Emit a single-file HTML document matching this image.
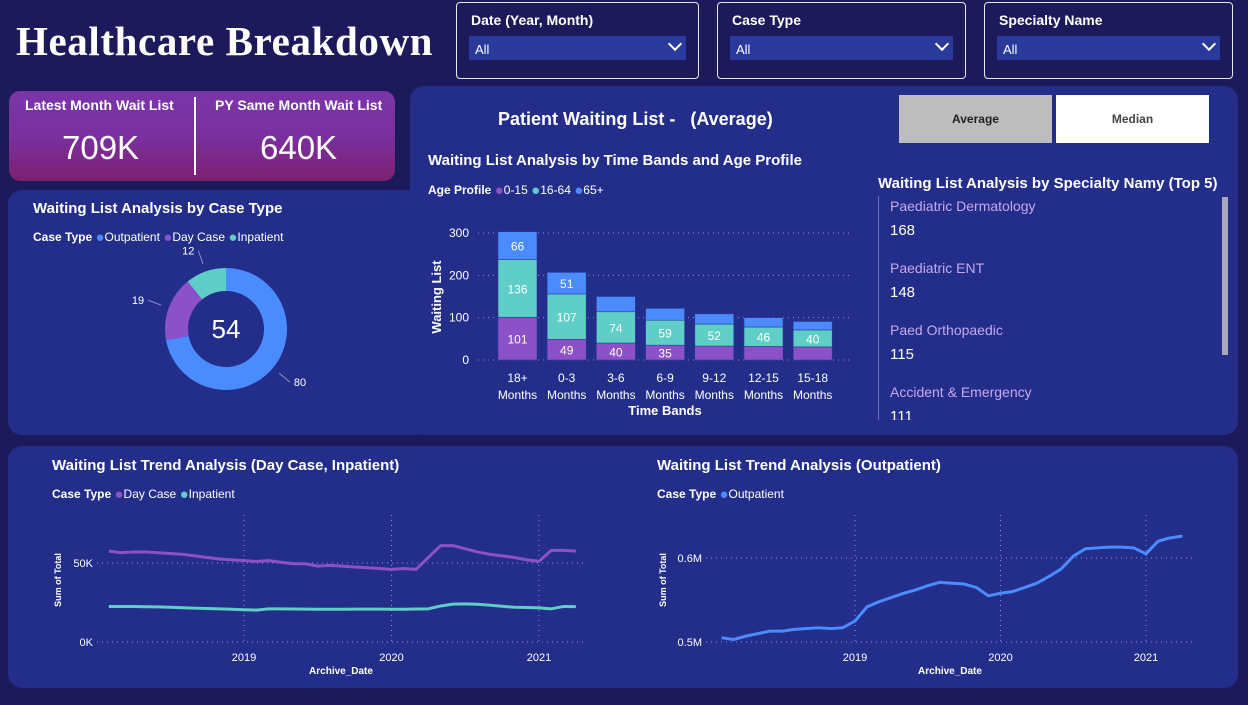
<!DOCTYPE html>
<html><head><meta charset="utf-8">
<style>
*{box-sizing:border-box;margin:0;padding:0}
body{width:1248px;height:705px;background:#1c1a5b;font-family:"Liberation Sans",sans-serif;color:#fff;position:relative;overflow:hidden}
.abs{position:absolute}
.panel{position:absolute;background:#232e8b;border-radius:14px}
.slicer{position:absolute;border:1.5px solid #e8e8f0;border-radius:4px;top:2px;height:77px}
.slicer .lbl{position:absolute;left:14px;top:9px;font-size:14px;font-weight:bold}
.slicer .fld{position:absolute;left:12px;right:12px;top:33px;height:24px;background:#2a3a9c;font-size:13px;padding:6px 0 0 6px}
.slicer .chev{position:absolute;right:6px;top:3px;width:10px;height:10px;border-right:2px solid #fff;border-bottom:2px solid #fff;transform:rotate(45deg)}
.t{position:absolute;white-space:nowrap}
.d{font-size:15px;line-height:10px;vertical-align:-1px}
</style></head><body>
<div class="t" style="left:16px;top:17px;font-family:'Liberation Serif',serif;font-weight:bold;font-size:41px;letter-spacing:0.6px">Healthcare Breakdown</div>

<div class="slicer" style="left:456px;width:243px"><div class="lbl">Date (Year, Month)</div><div class="fld">All<div class="chev"></div></div></div>
<div class="slicer" style="left:717px;width:249px"><div class="lbl">Case Type</div><div class="fld">All<div class="chev"></div></div></div>
<div class="slicer" style="left:984px;width:249px"><div class="lbl">Specialty Name</div><div class="fld">All<div class="chev"></div></div></div>

<div class="abs" style="left:8px;top:90px;width:388px;height:92px;border-radius:12px;background:linear-gradient(#7a35a8 0%,#7a30a0 50%,#7c2070 100%);border:1px solid #15204a">
  <div class="t" style="left:16px;top:6px;font-size:14px;font-weight:bold">Latest Month Wait List</div>
  <div class="t" style="left:53px;top:38px;font-size:33px">709K</div>
  <div class="abs" style="left:185px;top:6px;width:2px;height:78px;background:#fff"></div>
  <div class="t" style="left:206px;top:6px;font-size:14px;font-weight:bold">PY Same Month Wait List</div>
  <div class="t" style="left:251px;top:38px;font-size:33px">640K</div>
</div>

<div class="panel" style="left:410px;top:86px;width:828px;height:349px"></div>
<div class="panel" style="left:8px;top:190px;width:420px;height:245px"></div>
<div class="panel" style="left:8px;top:446px;width:1230px;height:242px"></div>

<div class="t" style="left:498px;top:109px;font-size:18px;font-weight:bold">Patient Waiting List -&nbsp;&nbsp;&nbsp;(Average)</div>
<div class="abs" style="left:899px;top:95px;width:153px;height:48px;background:#bdbdbd;color:#222;font-size:12px;font-weight:bold;text-align:center;line-height:48px">Average</div>
<div class="abs" style="left:1056px;top:95px;width:153px;height:48px;background:#fff;color:#444;font-size:12px;font-weight:bold;text-align:center;line-height:48px">Median</div>

<div class="t" style="left:33px;top:200px;font-size:15px;font-weight:bold">Waiting List Analysis by Case Type</div>
<div class="t" style="left:33px;top:230px;font-size:12px"><b>Case Type</b> <span class="d" style="color:#4a8cff">●</span>Outpatient <span class="d" style="color:#8c50c8">●</span>Day Case <span class="d" style="color:#5ecec6">●</span>Inpatient</div>
<svg class="abs" style="left:0;top:0" width="1248" height="705" id="svg">
</svg>

<div class="t" style="left:878px;top:175px;font-size:15px;font-weight:bold">Waiting List Analysis by Specialty Namy (Top 5)</div>
<div class="abs" style="left:878px;top:196px;width:340px;height:224px;overflow:hidden;border-left:1px solid #6a74b8">
  <div class="t" style="left:11px;top:2px;font-size:14px;color:#c7a8ea">Paediatric Dermatology</div><div class="t" style="left:11px;top:26px;font-size:15px">168</div>
  <div class="t" style="left:11px;top:64px;font-size:14px;color:#c7a8ea">Paediatric ENT</div><div class="t" style="left:11px;top:88px;font-size:15px">148</div>
  <div class="t" style="left:11px;top:126px;font-size:14px;color:#c7a8ea">Paed Orthopaedic</div><div class="t" style="left:11px;top:150px;font-size:15px">115</div>
  <div class="t" style="left:11px;top:188px;font-size:14px;color:#c7a8ea">Accident &amp; Emergency</div><div class="t" style="left:11px;top:212px;font-size:15px">111</div>
</div>
<div class="abs" style="left:1222px;top:197px;width:6px;height:158px;background:#a8a8b8"></div>

<div class="t" style="left:428px;top:152px;font-size:15px;font-weight:bold">Waiting List Analysis by Time Bands and Age Profile</div>
<div class="t" style="left:428px;top:183px;font-size:12px"><b>Age Profile</b> <span class="d" style="color:#8c50c8">●</span>0-15 <span class="d" style="color:#5ecec6">●</span>16-64 <span class="d" style="color:#4a8cff">●</span>65+</div>

<div class="t" style="left:52px;top:457px;font-size:15px;font-weight:bold">Waiting List Trend Analysis (Day Case, Inpatient)</div>
<div class="t" style="left:52px;top:487px;font-size:12px"><b>Case Type</b> <span class="d" style="color:#8c50c8">●</span>Day Case <span class="d" style="color:#5ecec6">●</span>Inpatient</div>
<div class="t" style="left:657px;top:457px;font-size:15px;font-weight:bold">Waiting List Trend Analysis (Outpatient)</div>
<div class="t" style="left:657px;top:487px;font-size:12px"><b>Case Type</b> <span class="d" style="color:#4a8cff">●</span>Outpatient</div>

<script>
const donutCats=['Outpatient','Day Case','Inpatient'];
const donutVals=[80,19,12];
const bands=['18+|Months','0-3|Months','3-6|Months','6-9|Months','9-12|Months','12-15|Months','15-18|Months'];
const age0=[101,49,40,35,33,32,31];
const age16=[136,107,74,59,52,46,40];
const age65=[66,51,36,28,24,22,20];
const barTicks=[0,100,200,300];
// monthly from Feb 2018 to Apr 2021
const dayCase=[57.5,56.5,57,57,56.5,56,55.5,54.5,53.5,52.5,52,51.5,51,51.5,50.5,49.5,49.5,48,48.5,48,47.5,47,46.5,46,46.5,46,53.5,61,61,59,57,55.5,54.5,53.5,52,51,58,58,57.5];
const inpatient=[22.5,22.5,22.5,22.3,22.2,22,21.7,21.4,21.2,21,20.7,20.4,20.2,21,21,20.9,20.8,20.7,20.7,20.7,20.8,20.8,20.8,20.7,20.7,20.9,21,22.8,24,24.1,23.9,23.3,22.6,22,21.8,21.6,21,22.5,22.4];
const outpatient=[0.505,0.503,0.507,0.510,0.513,0.513,0.515,0.516,0.517,0.516,0.517,0.525,0.542,0.548,0.553,0.558,0.562,0.567,0.571,0.570,0.569,0.565,0.555,0.558,0.560,0.565,0.570,0.578,0.587,0.602,0.611,0.612,0.613,0.613,0.612,0.605,0.620,0.624,0.626];
const trend1Ticks=['0K','50K'];
const trend2Ticks=['0.5M','0.6M'];
const years=[2019,2020,2021];

const NS='http://www.w3.org/2000/svg';
const svg=document.getElementById('svg');
function mk(tag,attrs,parent){const e=document.createElementNS(NS,tag);for(const k in attrs)e.setAttribute(k,attrs[k]);(parent||svg).appendChild(e);return e;}
function txt(x,y,s,attrs){const e=mk('text',Object.assign({x:x,y:y,fill:'#fff','font-size':12,'font-family':'Liberation Sans, sans-serif'},attrs||{}));e.textContent=s;return e;}

const cx=226,cy=329,ro=61,ri=38;
const colors=['#4a8cff','#8c50c8','#5ecec6'];
const tot=donutVals.reduce((a,b)=>a+b,0);
let a0=-Math.PI/2;
donutVals.forEach((v,i)=>{
  const a1=a0+v/tot*Math.PI*2;
  const p=(r,a)=>[cx+r*Math.cos(a),cy+r*Math.sin(a)];
  const [x1,y1]=p(ro,a0),[x2,y2]=p(ro,a1),[x3,y3]=p(ri,a1),[x4,y4]=p(ri,a0);
  const lg=(a1-a0)>Math.PI?1:0;
  const s=mk('path',{d:`M${x1},${y1}A${ro},${ro} 0 ${lg} 1 ${x2},${y2}L${x3},${y3}A${ri},${ri} 0 ${lg} 0 ${x4},${y4}Z`,fill:colors[i]});
  
  
  const am=(a0+a1)/2;
  const [lx,ly]=p(ro+8,am),[tx,ty]=p(ro+22,am);
  mk('line',{x1:lx,y1:ly,x2:tx,y2:ty,stroke:'#8890c0','stroke-width':1});
  const l=txt(tx+(Math.cos(am)>0?4:-4),ty+4,String(v),{'text-anchor':Math.cos(am)>0?'start':'end','font-size':11});
  
  
  a0=a1;
});
const dc=txt(cx,cy+9,'54',{'text-anchor':'middle','font-size':26});



const by0=360,by300=233,bx0=498,bstep=49.2,bw=39;
const yB=v=>by0-(v/300)*(by0-by300);
barTicks.forEach(t=>{
  mk('line',{x1:478,x2:852,y1:yB(t),y2:yB(t),stroke:'#8c92c8','stroke-dasharray':'1 4','stroke-width':1});
  txt(469,yB(t)+4,String(t),{'text-anchor':'end'});
});
bands.forEach((b,i)=>{
  const x=bx0+i*bstep;
  const segs=[[age0[i],'#8c50c8'],[age16[i],'#5ecec6'],[age65[i],'#4a8cff']];
  let base=0;
  segs.forEach(([v,c],j)=>{
    const r=mk('rect',{x:x,y:yB(base+v),width:bw,height:yB(base)-yB(base+v),fill:c,stroke:'#2e3a96','stroke-width':0.6});
    
    
    const show=(j===0&&i<4)||(j===1)||(j===2&&i<2);
    if(show) txt(x+bw/2,(yB(base)+yB(base+v))/2+5,String(v),{'text-anchor':'middle'});
    base+=v;
  });
  const parts=b.split('|');
  txt(x+bw/2,382,parts[0],{'text-anchor':'middle'});
  txt(x+bw/2,399,parts[1],{'text-anchor':'middle'});
});
txt(665,415,'Time Bands',{'text-anchor':'middle','font-size':13,'font-weight':'bold'});
txt(441,297,'Waiting List',{'text-anchor':'middle','font-size':13,'font-weight':'bold',transform:'rotate(-90 441 297)'});

function trend(cfg){
  const {x2019,pxYear,y0,y1,v0,v1,gx0,gx1,gyTop,tickLbls,xLbl,yLblX,series}=cfg;
  const X=d=>x2019+(d-2019)*pxYear;
  const Y=v=>y0-(v-v0)/(v1-v0)*(y0-y1);
  [v0,v1].forEach((t,i)=>{
    mk('line',{x1:gx0,x2:gx1,y1:Y(t),y2:Y(t),stroke:'#8c92c8','stroke-dasharray':'1 4'});
    txt(gx0-4,Y(t)+4,tickLbls[i],{'text-anchor':'end','font-size':11});
  });
  years.forEach(yr=>{
    mk('line',{x1:X(yr),x2:X(yr),y1:gyTop,y2:y0,stroke:'#8c92c8','stroke-dasharray':'1 4'});
    txt(X(yr),661,String(yr),{'text-anchor':'middle','font-size':11});
  });
  txt(xLbl,674,'Archive_Date',{'text-anchor':'middle','font-size':10,'font-weight':'bold'});
  txt(yLblX,580,'Sum of Total',{'text-anchor':'middle','font-size':9,'font-weight':'bold',transform:`rotate(-90 ${yLblX} 580)`});
  series.forEach(([data,col,name])=>{
    const pts=data.map((v,i)=>X(2018+1/12+i/12)+','+Y(v)).join(' ');
    const p=mk('polyline',{points:pts,fill:'none',stroke:col,'stroke-width':3,'stroke-linejoin':'round'});
    
    
  });
}
trend({x2019:244,pxYear:147.5,y0:642,y1:563,v0:0,v1:50,gx0:97,gx1:585,gyTop:515,tickLbls:trend1Ticks,xLbl:341,yLblX:61,
  series:[[dayCase,'#8c50c8','day-case-line'],[inpatient,'#5ecec6','inpatient-line']]});
trend({x2019:855,pxYear:145.5,y0:642,y1:558,v0:0.5,v1:0.6,gx0:706,gx1:1192,gyTop:515,tickLbls:trend2Ticks,xLbl:950,yLblX:666,
  series:[[outpatient,'#4a8cff','outpatient-line']]});
</script>
</body></html>
